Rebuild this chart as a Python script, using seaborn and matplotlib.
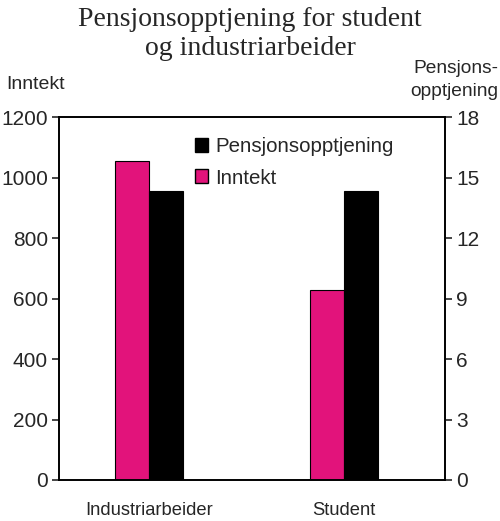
import seaborn as sns
import pandas as pd
from matplotlib import pyplot as plt
from matplotlib.patches import Patch

categories = ["Industriarbeider", "Student"]
inntekt = [1053, 628]
pensjon = [14.35, 14.35]
series = ["Inntekt", "Pensjonsopptjening"]
pink = "#e2137b"

sns.set_style("white")
plt.rcParams["font.family"] = ["Liberation Sans", "DejaVu Sans"]

df_inn = pd.DataFrame({"kat": categories, "verdi": inntekt, "serie": "Inntekt"})
df_pen = pd.DataFrame({"kat": categories, "verdi": pensjon, "serie": "Pensjonsopptjening"})

fig = plt.figure(figsize=(5, 5.21), dpi=100)
ax = fig.add_axes([0.118, 0.0787, 0.772, 0.6967])
ax2 = ax.twinx()

pal = {"Inntekt": pink, "Pensjonsopptjening": "black"}
sns.barplot(data=df_inn, x="kat", y="verdi", hue="serie", hue_order=series,
            palette=pal, width=0.35, dodge=True, ax=ax, legend=False,
            edgecolor="black", linewidth=0.8, saturation=1)
sns.barplot(data=df_pen, x="kat", y="verdi", hue="serie", hue_order=series,
            palette=pal, width=0.35, dodge=True, ax=ax2, legend=False,
            edgecolor="black", linewidth=0.8, saturation=1)

ax.set_ylim(0, 1200)
ax2.set_ylim(0, 18)
ax.set_yticks(range(0, 1201, 200))
ax2.set_yticks(range(0, 19, 3))
ax.set_xlim(-0.462, 1.518)
ax.set_xticks([-0.462, 0.528, 1.518])
ax.set_xticklabels([])
ax.set_xticks([0, 1], minor=True)
ax.set_xticklabels(categories, minor=True, fontsize=13.2)
ax.tick_params(axis="x", which="minor", length=0, pad=16)
ax.tick_params(axis="x", which="major", length=5, width=1.2, direction="out")
ax.tick_params(axis="y", length=5, width=1.2, direction="out", labelsize=15, pad=3)
ax2.tick_params(axis="y", length=5, width=1.2, direction="out", labelsize=15, pad=3)
ax.set_xlabel("")
ax.set_ylabel("")
ax2.set_ylabel("")

for a in (ax, ax2):
    for s in a.spines.values():
        s.set_visible(True)
        s.set_color("black")
        s.set_linewidth(1.2)

# legend
handles = [Patch(facecolor="black", edgecolor="black", label="Pensjonsopptjening"),
           Patch(facecolor=pink, edgecolor="black", label="Inntekt")]
ax2.legend(handles=handles, loc="upper left", bbox_to_anchor=(0.33, 0.967),
           frameon=False, fontsize=14.8, handlelength=0.65, handleheight=0.65,
           handletextpad=0.35, labelspacing=0.6, borderaxespad=0)

fig.text(0.5, 0.987, "Pensjonsopptjening for student\nog industriarbeider",
         ha="center", va="top", fontsize=20, family="Liberation Serif",
         linespacing=1.2)
fig.text(0.012, 0.837, "Inntekt", ha="left", va="center", fontsize=14)
fig.text(0.997, 0.884, "Pensjons-\nopptjening", ha="right", va="top",
         fontsize=13.8, linespacing=1.45)

fig.savefig("out.png", dpi=100)
